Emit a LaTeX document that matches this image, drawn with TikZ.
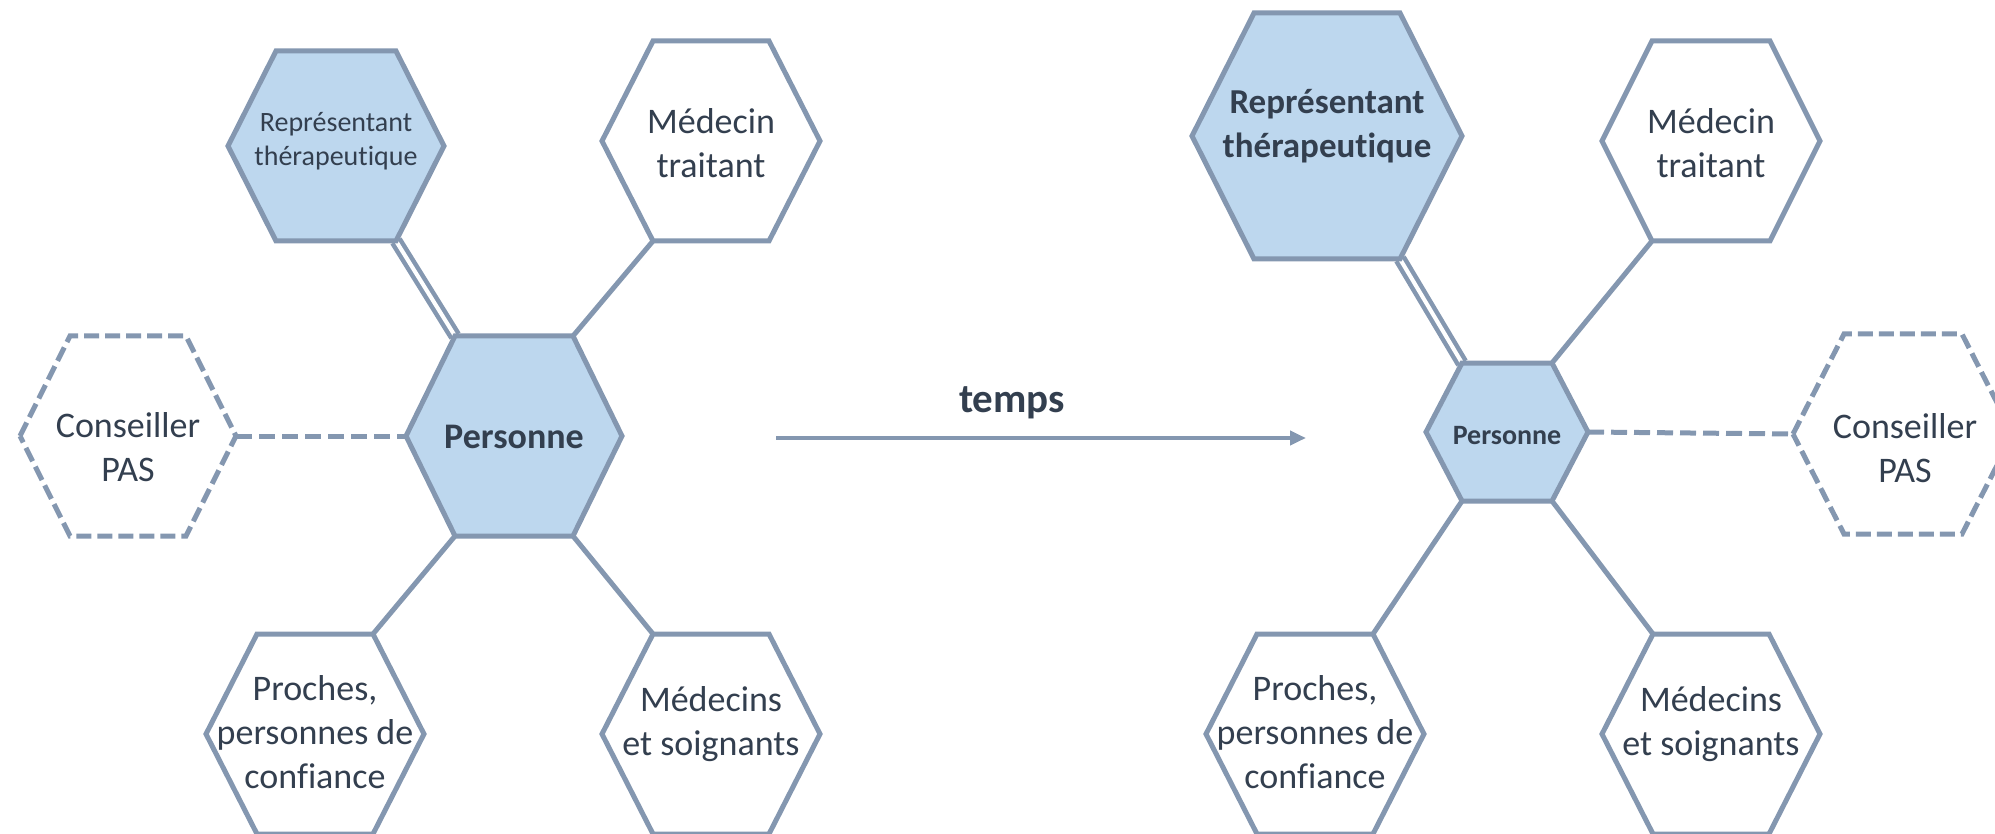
\documentclass[tikz,border=0pt]{standalone}
\usepackage{fontspec}
\setmainfont{Carlito}[Ligatures={NoCommon,NoContextual}]
\usetikzlibrary{arrows.meta,backgrounds}
\definecolor{hexfill}{HTML}{BDD7EE}
\definecolor{hexline}{HTML}{8497B0}
\definecolor{txt}{HTML}{333F4F}
\tikzset{
 hexpath/.style={draw=hexline, line width=5pt, line join=miter},
 filledhex/.style={hexpath, fill=hexfill},
 plainhex/.style={hexpath, fill=white},
 dashhex/.style={hexpath, fill=white, dash pattern=on 15pt off 6pt},
 conn/.style={draw=hexline, line width=5pt},
 dashconn/.style={conn, dash pattern=on 16pt off 7pt},
 dblconn/.style={draw=hexline, line width=4.5pt, double=white, double distance=4pt},
 arrowline/.style={draw=hexline, line width=4pt, -{Triangle[length=16pt,width=14pt]}},
 lbl/.style={text=txt, align=center, inner sep=0pt, font=\fontsize{36}{44}\selectfont},
 smalllbl/.style={lbl, font=\fontsize{28}{34}\selectfont},
 boldlbl/.style={lbl, font=\bfseries\fontsize{36}{44}\selectfont},
 boldsmall/.style={lbl, font=\bfseries\fontsize{28}{34}\selectfont},
 boldbig/.style={lbl, font=\bfseries\fontsize{35}{44}\selectfont},
 timelbl/.style={lbl, font=\bfseries\fontsize{41}{49}\selectfont},
}
% name, cx, cy, half width, half top edge, half height, style
\newcommand\hexa[7]{%
 \path[#7] ({#2-#4},{#3}) coordinate (#1-l)
   -- ({#2-#5},{#3-#6}) coordinate (#1-tl)
   -- ({#2+#5},{#3-#6}) coordinate (#1-tr)
   -- ({#2+#4},{#3}) coordinate (#1-r)
   -- ({#2+#5},{#3+#6}) coordinate (#1-br)
   -- ({#2-#5},{#3+#6}) coordinate (#1-bl)
   -- cycle;}
\begin{document}
\begin{tikzpicture}[x=1pt,y=-1pt]
\useasboundingbox (0,0) rectangle (1995,834);
\clip (0,0) rectangle (1995,834);
% ---- left group
\hexa{RepL}{336}{146}{108}{60}{95}{filledhex}
\hexa{PerL}{514}{436}{108}{59}{100}{filledhex}
\hexa{ConL}{128}{436}{108}{58}{100}{dashhex}
\hexa{MTL}{711}{141}{109}{58}{100}{plainhex}
\hexa{ProL}{315}{734}{109}{58}{100}{plainhex}
\hexa{MSL}{711}{734}{109}{58}{100}{plainhex}
% ---- right group
\hexa{RepR}{1327}{136}{135}{73}{123}{filledhex}
\hexa{PerR}{1507}{432}{81}{45}{69}{filledhex}
\hexa{MTR}{1711}{141}{109}{59}{100}{plainhex}
\hexa{ConR}{1903}{434}{110}{59}{100}{dashhex}
\hexa{ProR}{1315}{734}{109}{58}{100}{plainhex}
\hexa{MSR}{1711}{734}{109}{58}{100}{plainhex}
% ---- connectors
\begin{pgfonlayer}{background}
\draw[dblconn] (RepL-br) -- (PerL-tl);
\draw[conn] (MTL-bl) -- (PerL-tr);
\draw[dashconn] (ConL-r) -- (PerL-l);
\draw[conn] (ProL-tr) -- (PerL-bl);
\draw[conn] (MSL-tl) -- (PerL-br);
\draw[dblconn] (RepR-br) -- (PerR-tl);
\draw[conn] (MTR-bl) -- (PerR-tr);
\draw[dashconn] (PerR-r) -- (ConR-l);
\draw[conn] (ProR-tr) -- (PerR-bl);
\draw[conn] (MSR-tl) -- (PerR-br);
\end{pgfonlayer}
% ---- labels
\node[smalllbl] (tRepL) at (336,141) {Représentant\\thérapeutique};
\node[boldlbl] (tPerL) at (514,437) {Personne};
\node[lbl] (tConL) at (128,447) {Conseiller\\PAS};
\node[lbl] (tMTL) at (711,143) {Médecin\\traitant};
\node[lbl] (tProL) at (315,732) {Proches,\\personnes de\\confiance};
\node[lbl] (tMSL) at (711,724) {Médecins\\et soignants};
\node[boldbig] (tRepR) at (1327,126) {Représentant\\thérapeutique};
\node[boldsmall] (tPerR) at (1507,436) {Personne};
\node[lbl] (tMTR) at (1711,143) {Médecin\\traitant};
\node[lbl] (tConR) at (1905,448) {Conseiller\\PAS};
\node[lbl] (tProR) at (1315,732) {Proches,\\personnes de\\confiance};
\node[lbl] (tMSR) at (1711,724) {Médecins\\et soignants};
% ---- time arrow
\coordinate (arrS) at (776,438);
\coordinate (arrE) at (1306,438);
\draw[arrowline] (arrS) -- (arrE);
\node[timelbl] (temps) at (1012,403) {temps};
\end{tikzpicture}
\end{document}
